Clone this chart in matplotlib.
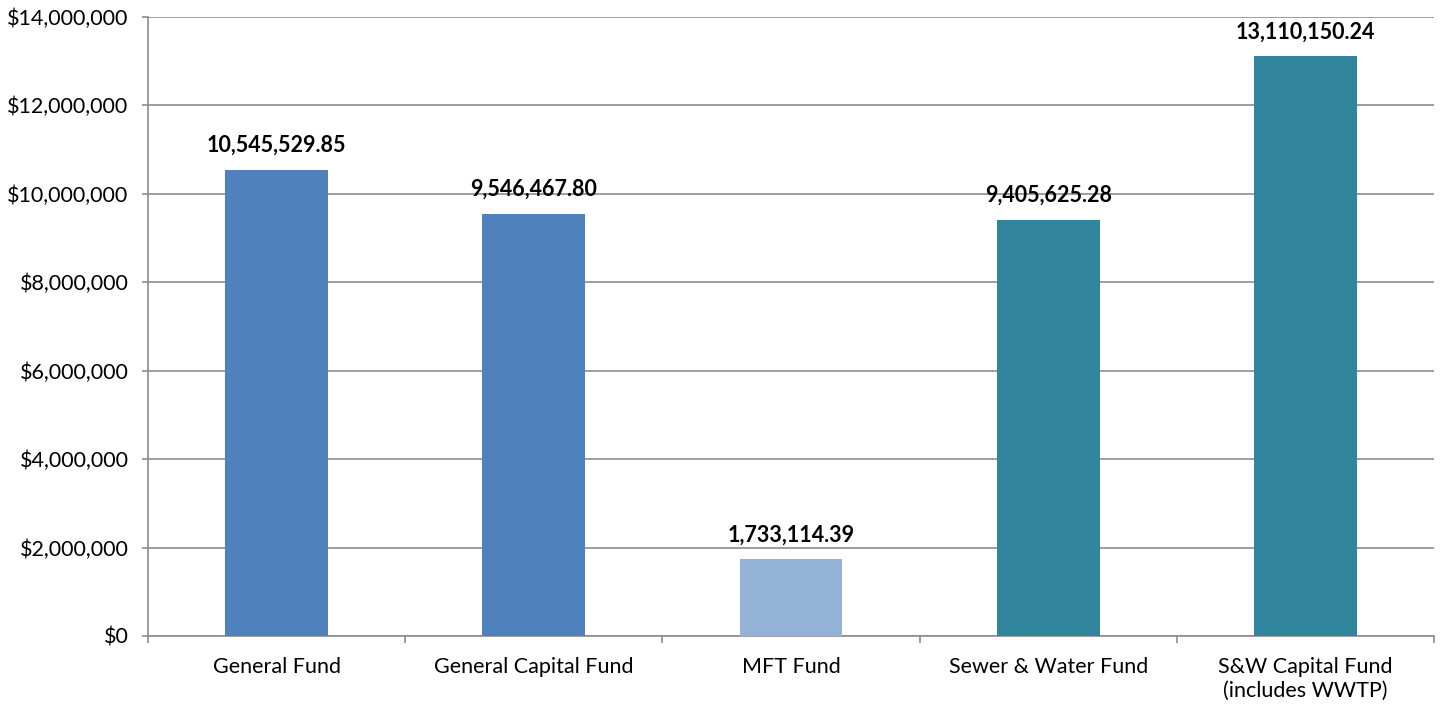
import matplotlib
matplotlib.use("Agg")
import matplotlib.pyplot as plt
from matplotlib.ticker import FuncFormatter, FixedLocator

categories = ["General Fund", "General Capital Fund", "MFT Fund", "Sewer & Water Fund", "S&W Capital Fund\n(includes WWTP)"]
values = [10545529.85, 9546467.80, 1733114.39, 9405625.28, 13110150.24]
colors = ["#4F81BD", "#4F81BD", "#95B3D7", "#31859C", "#31859C"]
y_ticks = [0, 2000000, 4000000, 6000000, 8000000, 10000000, 12000000, 14000000]

plt.rcParams['font.family'] = ['Lato', 'DejaVu Sans']

fig = plt.figure(figsize=(14.44, 7.06), dpi=100)
ax = fig.add_axes([0.1025, 0.0992, 0.8905, 0.8768])

x = list(range(len(categories)))
ax.bar(x, values, width=0.4, color=colors, zorder=3)

for xi, v in zip(x, values):
    ax.annotate(f"{v:,.2f}", (xi, v), xytext=(0, 10), textcoords="offset points",
                ha="center", va="bottom", fontsize=15.5, fontweight="bold", color="black")

ax.set_xlim(-0.5, len(categories) - 0.5)
ax.set_ylim(0, 14000000)
ax.set_yticks(y_ticks)
ax.yaxis.set_major_formatter(FuncFormatter(lambda v, p: f"${v:,.0f}"))
ax.yaxis.grid(True, color="#8C8C8C", linewidth=1.2, zorder=0)
ax.set_xticks(x)
ax.set_xticklabels(categories, fontsize=15.5, linespacing=1.25)
ax.xaxis.set_minor_locator(FixedLocator([i - 0.5 for i in range(len(categories) + 1)]))
ax.tick_params(axis="x", which="major", length=0, pad=15)
ax.tick_params(axis="x", which="minor", length=5, color="#8C8C8C", width=1.2)
ax.tick_params(axis="y", length=4, color="#8C8C8C", width=1.2, labelsize=15.5, pad=10)

for s in ["top", "right"]:
    ax.spines[s].set_visible(False)
for s in ["left", "bottom"]:
    ax.spines[s].set_color("#8C8C8C")
    ax.spines[s].set_linewidth(1.2)

fig.savefig("out.png", dpi=100)
